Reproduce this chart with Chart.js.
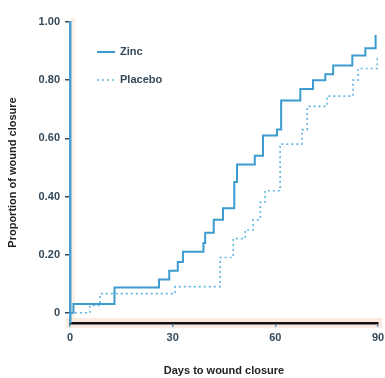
<!DOCTYPE html>
<html>
<head>
<meta charset="utf-8">
<script src="https://cdn.jsdelivr.net/npm/chart.js@4.4.1/dist/chart.umd.min.js"></script>
<style>
  html, body { margin: 0; padding: 0; background: #fff; }
  #wrap { width: 385px; height: 378px; position: relative; }
</style>
</head>
<body>
<div id="wrap"><canvas id="woundChart" width="385" height="378"></canvas></div>
<script>
// Kaplan-Meier style steps: day of event -> cumulative proportion closed
const zincDays   = [0, 1, 13, 26, 29, 31.5, 33, 39, 39.5, 42, 44.7, 48, 48.8, 54, 56.4, 60.5, 61.7, 67.3, 71, 74.6, 76.9, 82.5, 86.3, 89.3];
const zincValues = [0, 0.03, 0.087, 0.115, 0.145, 0.175, 0.21, 0.24, 0.275, 0.32, 0.36, 0.45, 0.51, 0.54, 0.61, 0.63, 0.73, 0.77, 0.80, 0.82, 0.85, 0.885, 0.91, 0.955];

const placeboDays   = [0, 5.8, 8.8, 30.7, 43.9, 47.7, 51.2, 53.5, 55.6, 57, 61.4, 67.8, 69.3, 75.1, 82.7, 84.2, 89.8];
const placeboValues = [0, 0.025, 0.066, 0.09, 0.19, 0.255, 0.285, 0.32, 0.38, 0.42, 0.58, 0.63, 0.71, 0.745, 0.80, 0.84, 0.875];

const yTickValues = [0, 0.2, 0.4, 0.6, 0.8, 1.0];
const yTickLabels = ['0', '0.20', '0.40', '0.60', '0.80', '1.00'];
const xTickValues = [0, 30, 60, 90];

const toPoints = (days, vals) => days.map((d, i) => ({ x: d, y: vals[i] }));

// legend drawn inside the plot, top-left
const insideLegend = {
  id: 'insideLegend',
  afterDraw(chart) {
    const ctx = chart.ctx;
    const rows = [52, 80];
    ctx.save();
    ctx.font = 'bold 11px "Liberation Sans", Arial, sans-serif';
    ctx.textBaseline = 'middle';
    chart.data.datasets.forEach((ds, i) => {
      const y = rows[i];
      ctx.beginPath();
      ctx.strokeStyle = ds.borderColor;
      ctx.lineWidth = ds.borderWidth;
      ctx.setLineDash(ds.borderDash || []);
      ctx.moveTo(97, y);
      ctx.lineTo(115, y);
      ctx.stroke();
      ctx.setLineDash([]);
      ctx.fillStyle = '#34495a';
      ctx.fillText(ds.label, 120, y);
    });
    ctx.restore();
  }
};

// faint orange halo along the axis lines, as in the scanned original
const axisHalo = {
  id: 'axisHalo',
  beforeDraw(chart) {
    const { ctx, chartArea } = chart;
    ctx.save();
    ctx.fillStyle = 'rgba(245, 195, 165, 0.35)';
    ctx.fillRect(chartArea.left - 4, chartArea.bottom - 5, chartArea.right - chartArea.left + 8, 10);
    ctx.fillStyle = 'rgba(245, 195, 165, 0.25)';
    ctx.fillRect(chartArea.left + 1, chartArea.top - 4, 4, chartArea.bottom - chartArea.top);
    ctx.restore();
  }
};

const ctx = document.getElementById('woundChart').getContext('2d');
new Chart(ctx, {
  type: 'line',
  data: {
    datasets: [
      {
        label: 'Zinc',
        data: toPoints(zincDays, zincValues),
        stepped: true,
        borderColor: '#3c9ccf',
        borderWidth: 2,
        pointRadius: 0,
        fill: false
      },
      {
        label: 'Placebo',
        data: toPoints(placeboDays, placeboValues),
        stepped: true,
        borderColor: '#62b6e0',
        borderWidth: 1.6,
        borderDash: [2, 3],
        pointRadius: 0,
        fill: false
      }
    ]
  },
  options: {
    responsive: false,
    animation: false,
    layout: { padding: { top: 22, right: 7, left: 0, bottom: 0 } },
    plugins: {
      legend: { display: false },
      tooltip: { enabled: false }
    },
    scales: {
      x: {
        type: 'linear',
        min: 0,
        max: 90,
        afterBuildTicks: (scale) => { scale.ticks = xTickValues.map(v => ({ value: v })); },
        afterFit: (scale) => { scale.height = 55; scale.paddingRight = 0; scale.paddingLeft = 0; },
        ticks: {
          color: '#34495a',
          font: { family: '"Liberation Sans", Arial, sans-serif', size: 11, weight: 'bold' },
          padding: 4,
          maxRotation: 0
        },
        grid: { drawOnChartArea: false, drawTicks: true, tickLength: 4, color: '#4a9fd0', lineWidth: 1.5 },
        border: { display: true, color: '#111', width: 2.5 },
        title: {
          display: true,
          text: 'Days to wound closure',
          color: '#222',
          font: { family: '"Liberation Sans", Arial, sans-serif', size: 11, weight: 'bold' },
          padding: { top: 12, bottom: 0 }
        }
      },
      y: {
        type: 'linear',
        min: -0.035,
        max: 1.0,
        afterBuildTicks: (scale) => { scale.ticks = yTickValues.map(v => ({ value: v })); },
        afterFit: (scale) => { scale.width = 70; },
        ticks: {
          color: '#34495a',
          font: { family: '"Liberation Sans", Arial, sans-serif', size: 11, weight: 'bold' },
          padding: 5,
          callback: (v) => yTickLabels[yTickValues.indexOf(v)]
        },
        grid: { drawOnChartArea: false, drawTicks: true, tickLength: 5, color: '#34495a', lineWidth: 1.5 },
        border: { display: true, color: '#4a9fd0', width: 2.5 },
        title: {
          display: true,
          text: 'Proportion of wound closure',
          color: '#222',
          font: { family: '"Liberation Sans", Arial, sans-serif', size: 11, weight: 'bold' },
          padding: { top: 6, bottom: 0 }
        }
      }
    }
  },
  plugins: [axisHalo, insideLegend]
});
</script>
</body>
</html>
